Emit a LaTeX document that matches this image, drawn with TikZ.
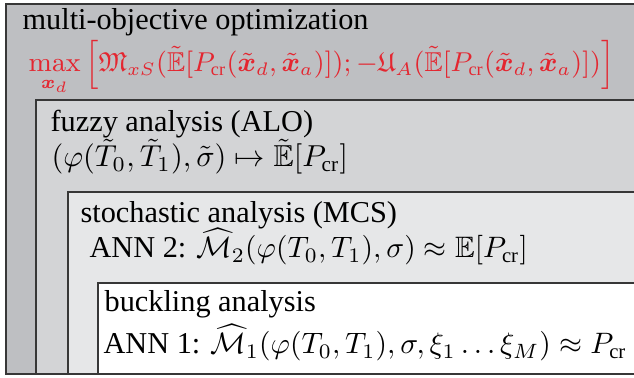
\documentclass[tikz,border=0pt]{standalone}
\usepackage{graphicx}
\usepackage{amsmath,amssymb}
\usepackage[no-math]{fontspec}
\setmainfont{Liberation Serif}
\usepackage{bm}
\definecolor{lvA}{RGB}{190,191,194}
\definecolor{lvB}{RGB}{211,212,214}
\definecolor{lvC}{RGB}{230,231,232}
\definecolor{edge}{RGB}{55,55,55}
\definecolor{objred}{RGB}{228,38,48}
\begin{document}
\begin{tikzpicture}[x=0.33pt,y=-0.33pt,
  box/.style={draw=edge,line width=0.55pt},
  lbl/.style={anchor=base west,inner sep=0pt,font=\fontsize{10}{12}\selectfont}]
\useasboundingbox (0,0) rectangle (634,378);
\begin{scope}
\clip (0,0) rectangle (634,378);
\draw[box,fill=lvA] (6,4) rectangle (700,374);
\draw[box,fill=lvB] (36,100) rectangle (700,374);
\draw[box,fill=lvC] (68,192) rectangle (700,374);
\draw[box,fill=white] (98,283) rectangle (700,374);
\node[lbl] (t1) at (22,30) {multi-objective optimization};
\node[lbl,text=objred,font=\fontsize{9}{12}\selectfont] (f1) at (28,72) {$\displaystyle\max_{\bm{x}_d}\,\Bigl[\mathfrak{M}_{xS}(\tilde{\mathbb{E}}[P_{\text{cr}}(\tilde{\bm{x}}_d,\tilde{\bm{x}}_a)]);-\mathfrak{U}_A(\tilde{\mathbb{E}}[P_{\text{cr}}(\tilde{\bm{x}}_d,\tilde{\bm{x}}_a)])\Bigr]$};
\node[lbl] (t2) at (50,132) {fuzzy analysis (ALO)};
\node[lbl] (f2) at (51,167) {$(\varphi(\tilde{T}_0,\tilde{T}_1),\tilde{\sigma})\mapsto\tilde{\mathbb{E}}[P_{\text{cr}}]$};
\node[lbl] (t3) at (80,223) {stochastic analysis (MCS)};
\node[lbl] (f3) at (89,258) {ANN 2: \scalebox{0.975}{$\widehat{\mathcal{M}}_2(\varphi(T_0,T_1),\sigma)\approx\mathbb{E}[P_{\text{cr}}]$}};
\node[lbl] (t4) at (104,312) {buckling analysis};
\node[lbl] (f4) at (103,354) {ANN 1: \scalebox{0.975}{$\widehat{\mathcal{M}}_1(\varphi(T_0,T_1),\sigma,\xi_1\ldots\xi_M)\approx P_{\text{cr}}$}};
\end{scope}
\end{tikzpicture}
\end{document}
